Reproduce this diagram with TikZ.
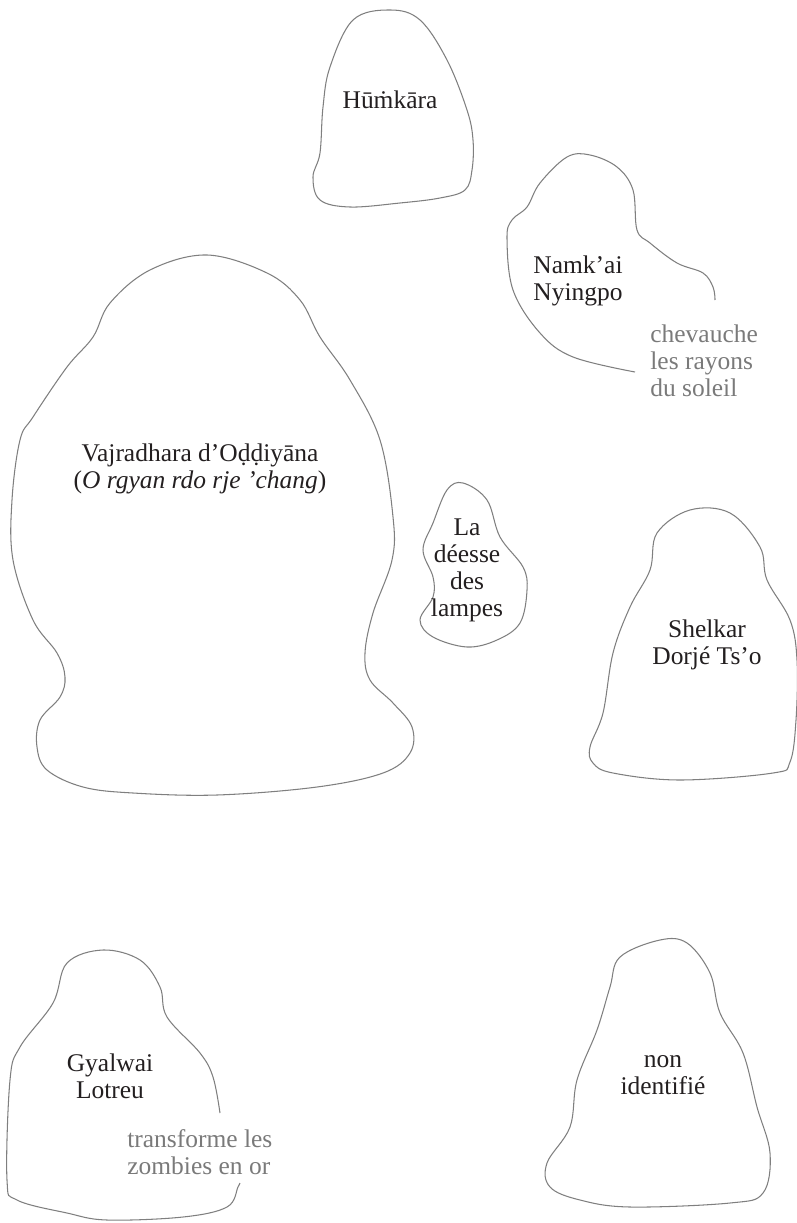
\documentclass[tikz,border=0pt]{standalone}
\usepackage{fontspec}
\setmainfont{Liberation Serif}
\usepackage{xcolor}

\definecolor{inkgray}{HTML}{7F7F7F}
\definecolor{glossgray}{HTML}{7A7A7A}
\definecolor{nametext}{HTML}{231F20}

\begin{document}
\begin{tikzpicture}[
  x=0.02cm, y=-0.02cm,
  outline/.style={draw=inkgray,line width=0.6pt},
  deity/.style={align=center,text=nametext,inner sep=0pt,font=\fontsize{14.5}{15.4}\selectfont},
  gloss/.style={align=left,text=glossgray,inner sep=0pt,anchor=west,font=\fontsize{14.5}{15.4}\selectfont}
]
  \useasboundingbox (0,0) rectangle (797,1223);
  % outlines
  \draw[outline] plot[smooth cycle,tension=0.6] coordinates {(390,10) (420,20) (447,60) (467,110) (473,140) (472,170) (465,190) (440,198) (400,203) (350,207) (320,200) (313,177) (320,153) (323,107) (330,67) (353,20)};
  \draw[outline] plot[smooth,tension=0.6] coordinates {(635,372) (573,357) (540,333) (513,290) (507,238) (512,220) (527,207) (540,183) (567,157) (590,155) (617,167) (633,190) (637,230) (650,243) (677,263) (703,273) (713,287) (715,300)};
  \draw[outline] plot[smooth cycle,tension=0.6] coordinates {(207,255) (267,273) (300,300) (320,337) (350,380) (380,440) (393,517) (392,560) (373,613) (365,653) (370,680) (393,703) (412,727) (410,753) (383,773) (317,787) (217,795) (133,793) (83,787) (47,770) (37,747) (40,720) (60,697) (65,677) (57,653) (33,620) (13,560) (12,500) (20,440) (33,417) (67,367) (93,337) (110,303) (150,270)};
  \draw[outline] plot[smooth cycle,tension=0.6] coordinates {(463,483) (487,500) (500,537) (523,567) (527,590) (520,623) (497,640) (467,647) (433,637) (420,620) (433,597) (433,577) (423,550) (433,523) (447,490)};
  \draw[outline] plot[smooth cycle,tension=0.6] coordinates {(690,510) (730,513) (760,547) (767,580) (790,620) (797,660) (796,720) (790,762) (773,773) (680,780) (613,773) (593,763) (590,747) (603,713) (613,653) (630,607) (650,570) (657,533)};
  \draw[outline] plot[smooth,tension=0.6] coordinates {(220,1113) (213,1077) (200,1053) (167,1017) (160,987) (140,960) (103,950) (67,963) (53,1003) (20,1047) (10,1080) (7,1180) (17,1200) (67,1213) (107,1220) (183,1217) (227,1207) (238,1187) (240,1183)};
  \draw[outline] plot[smooth cycle,tension=0.6] coordinates {(660,940) (687,943) (710,973) (720,1013) (743,1053) (757,1107) (770,1153) (763,1193) (730,1203) (630,1207) (580,1200) (550,1187) (547,1163) (570,1127) (577,1080) (597,1030) (610,987) (620,957)};
  % names
  \node[deity] (hum) at (390,100) {Hūṁkāra};
  \node[deity] (namkai) at (578,281) {Namk’ai\\Nyingpo};
  \node[gloss] (namkaigloss) at (650,361) {chevauche\\les rayons\\du soleil};
  \node[deity] (vajra) at (200,469) {Vajradhara d’Oḍḍiyāna\\(\textit{O rgyan rdo rje ’chang})};
  \node[deity] (deesse) at (467,570) {La\\déesse\\des\\lampes};
  \node[deity] (shelkar) at (707,645) {Shelkar\\Dorjé Ts’o};
  \node[deity] (gyalwai) at (110,1076) {Gyalwai\\Lotreu};
  \node[gloss] (gyalwaigloss) at (127,1152) {transforme les\\zombies en or};
  \node[deity] (nonid) at (663,1075) {non\\identifié};
\end{tikzpicture}
\end{document}
